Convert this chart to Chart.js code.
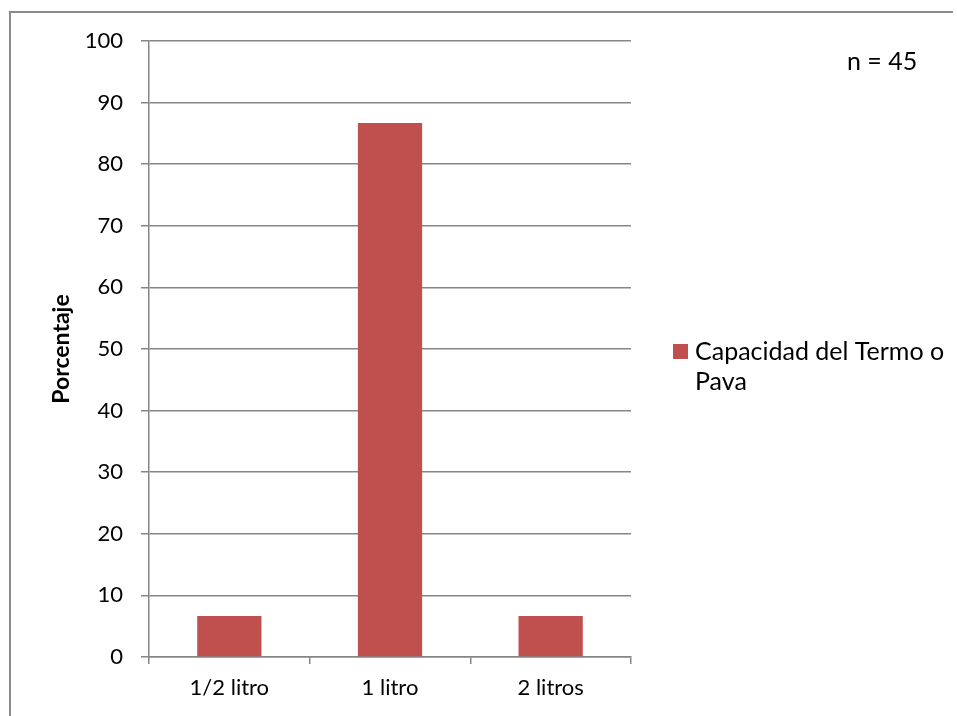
<!DOCTYPE html>
<html>
<head>
<meta charset="utf-8">
<script src="https://cdn.jsdelivr.net/npm/chart.js@4/dist/chart.umd.min.js"></script>
<style>
html,body{margin:0;padding:0;background:#fff;}
#wrap{width:957px;height:716px;position:relative;}
</style>
</head>
<body>
<div id="wrap"><canvas id="c" width="957" height="716"></canvas></div>
<script>
const categories = ["1/2 litro", "1 litro", "2 litros"];
const seriesLabel = "Capacidad del Termo o Pava";
const seriesLabelLines = ["Capacidad del Termo o", "Pava"];
const seriesValues = [6.67, 86.67, 6.67];
const yTicks = [0, 10, 20, 30, 40, 50, 60, 70, 80, 90, 100];
const axisTitle = "Porcentaje";
const noteText = "n = 45";

const FONT = "Lato, 'Open Sans', sans-serif";
const GRID = "#868686";
const BAR = "#C0504D";

const extras = {
  id: "extras",
  afterDraw(chart) {
    const ctx = chart.ctx;
    ctx.save();
    // outer border
    ctx.strokeStyle = "#8c8c8c";
    ctx.lineWidth = 2;
    ctx.beginPath();
    ctx.moveTo(10, 716);
    ctx.lineTo(10, 12);
    ctx.lineTo(953, 12);
    ctx.stroke();
    // note
    ctx.fillStyle = "#000";
    ctx.font = "25px " + FONT;
    ctx.textBaseline = "middle";
    ctx.textAlign = "left";
    ctx.fillText(noteText, 847, 62);
    // legend
    const ds = chart.data.datasets[0];
    ctx.fillStyle = ds.backgroundColor;
    ctx.fillRect(673, 344, 15, 15);
    ctx.fillStyle = "#000";
    ctx.font = "25px " + FONT;
    seriesLabelLines.forEach((ln, i) => ctx.fillText(ln, 695, 352 + i * 30));
    ctx.restore();
  }
};

new Chart(document.getElementById("c"), {
  type: "bar",
  data: {
    labels: categories,
    datasets: [{
      label: seriesLabel,
      data: seriesValues,
      backgroundColor: BAR,
      borderWidth: 0,
      categoryPercentage: 1.0,
      barPercentage: 0.4
    }]
  },
  options: {
    responsive: false,
    animation: false,
    devicePixelRatio: 1,
    layout: { padding: { left: 0, top: 41, right: 326, bottom: 0 } },
    plugins: { legend: { display: false }, tooltip: { enabled: false } },
    scales: {
      x: {
        grid: { display: true, drawOnChartArea: false, drawTicks: true, tickLength: 7, color: GRID, lineWidth: 1.5, offset: true },
        border: { display: true, color: GRID, width: 1.5 },
        ticks: { color: "#000", font: { family: FONT, size: 22 }, padding: 11, maxRotation: 0 },
        afterFit(s) { s.height = 59; }
      },
      y: {
        min: 0, max: 100,
        afterBuildTicks(s) { s.ticks = yTicks.map(v => ({ value: v })); },
        grid: { color: GRID, lineWidth: 1.5, tickLength: 8, drawTicks: true },
        border: { display: true, color: GRID, width: 1.5 },
        ticks: { color: "#000", font: { family: FONT, size: 22 }, padding: 18 },
        title: { display: true, text: axisTitle, color: "#000", font: { family: FONT, size: 23, weight: "bold" }, padding: { top: 48, bottom: 0 } },
        afterFit(s) { s.width = 149; }
      }
    }
  },
  plugins: [extras]
});
</script>
</body>
</html>
